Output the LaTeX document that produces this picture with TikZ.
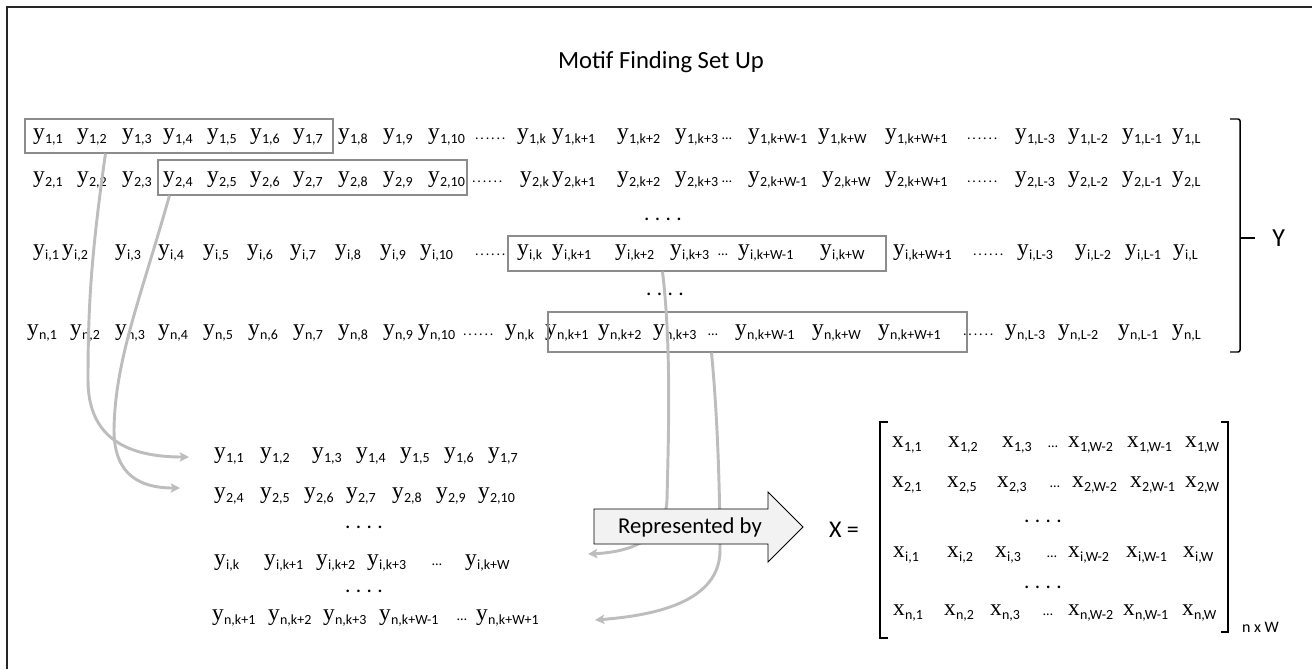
\documentclass[tikz,border=0pt]{standalone}
\usepackage{fontspec}
\setmainfont{Carlito}
\newfontfamily\serifyy{Liberation Serif}
\usetikzlibrary{arrows.meta,calc,fit}
\definecolor{boxgray}{HTML}{8C8C8C}
\definecolor{arrgray}{HTML}{BDBDBD}
\definecolor{repfill}{HTML}{F2F2F2}
\newcommand\ylet{\fontsize{17.5}{19}\serifyy}
\newcommand\sbf{\fontsize{10.5}{12}\selectfont}
\newcommand\yv[2]{{\ylet #1}\kern0.3pt\raisebox{-3pt}{\sbf #2}}
\newcommand\Ey[4]{\node[ent] (#1) at (#2,#3) {\yv{y}{#4}};}
\newcommand\Ex[4]{\node[ent] (#1) at (#2,#3) {\yv{x}{#4}};}
\newcommand\sixdots{.\kern1.4pt.\kern1.4pt.\kern1.4pt.\kern1.4pt.\kern1.4pt.}
\newcommand\Dd[3]{\node[ent] (#1) at (#2,#3) {\sbf\sixdots};}
\newcommand\Dt[3]{\node[ent] (#1) at (#2,#3) {\sbf\ldots};}
\newcommand\Dc[3]{\node[inner sep=0pt,anchor=base] (#1) at (#2,#3) {\fontsize{16}{18}\selectfont .\kern4pt.\kern4pt.\kern4pt.};}
\begin{document}
\begin{tikzpicture}[x=0.75pt,y=-0.75pt,
  ent/.style={anchor=base west,inner sep=0pt,outer sep=0pt},
  selbox/.style={draw=boxgray,line width=0.8pt,inner sep=0pt},
  garrow/.style={draw=arrgray,line width=2.2pt,-{Stealth[length=7pt,width=7pt,inset=1.5pt]}},
  brk/.style={line width=1.1pt,black}]
\useasboundingbox (0,0) rectangle (1312,669);
\draw[line width=0.9pt,black!85] (7,669) -- (7,7) -- (1312,7);
\node[font=\fontsize{18.5}{22}\selectfont] (title) at (661,62) {Motif Finding Set Up};

% row 1
\Ey{a1}{33}{139}{1,1}\Ey{a2}{77}{139}{1,2}\Ey{a3}{122}{139}{1,3}\Ey{a4}{163}{139}{1,4}
\Ey{a5}{207}{139}{1,5}\Ey{a6}{250}{139}{1,6}\Ey{a7}{293}{139}{1,7}\Ey{a8}{338}{139}{1,8}
\Ey{a9}{383}{139}{1,9}\Ey{a10}{428}{139}{1,10}\Dd{ad1}{475}{139}
\Ey{a11}{517}{139}{1,k}\Ey{a12}{552}{139}{1,k+1}\Ey{a13}{617}{139}{1,k+2}\Ey{a14}{675}{139}{1,k+3}
\Dt{ad2}{722}{139}\Ey{a15}{748}{139}{1,k+W-1}\Ey{a16}{818}{139}{1,k+W}\Ey{a17}{885}{139}{1,k+W+1}
\Dd{ad3}{967}{139}\Ey{a18}{1015}{139}{1,L-3}\Ey{a19}{1068}{139}{1,L-2}\Ey{a20}{1122}{139}{1,L-1}\Ey{a21}{1172}{139}{1,L}
% row 2
\Ey{b1}{33}{182}{2,1}\Ey{b2}{77}{182}{2,2}\Ey{b3}{122}{182}{2,3}\Ey{b4}{163}{182}{2,4}
\Ey{b5}{207}{182}{2,5}\Ey{b6}{250}{182}{2,6}\Ey{b7}{293}{182}{2,7}\Ey{b8}{338}{182}{2,8}
\Ey{b9}{383}{182}{2,9}\Ey{b10}{428}{182}{2,10}\Dd{bd1}{472}{182}
\Ey{b11}{520}{182}{2,k}\Ey{b12}{552}{182}{2,k+1}\Ey{b13}{617}{182}{2,k+2}\Ey{b14}{675}{182}{2,k+3}
\Dt{bd2}{722}{182}\Ey{b15}{748}{182}{2,k+W-1}\Ey{b16}{822}{182}{2,k+W}\Ey{b17}{885}{182}{2,k+W+1}
\Dd{bd3}{967}{182}\Ey{b18}{1015}{182}{2,L-3}\Ey{b19}{1068}{182}{2,L-2}\Ey{b20}{1122}{182}{2,L-1}\Ey{b21}{1172}{182}{2,L}
\Dc{vd1}{663}{220}
% row i
\Ey{c1}{33}{255}{i,1}\Ey{c2}{62}{255}{i,2}\Ey{c3}{115}{255}{i,3}\Ey{c4}{158}{255}{i,4}
\Ey{c5}{203}{255}{i,5}\Ey{c6}{247}{255}{i,6}\Ey{c7}{290}{255}{i,7}\Ey{c8}{335}{255}{i,8}
\Ey{c9}{380}{255}{i,9}\Ey{c10}{420}{255}{i,10}\Dd{cd1}{475}{255}
\Ey{c11}{517}{255}{i,k}\Ey{c12}{552}{255}{i,k+1}\Ey{c13}{615}{255}{i,k+2}\Ey{c14}{670}{255}{i,k+3}
\Dt{cd2}{718}{255}\Ey{c15}{738}{255}{i,k+W-1}\Ey{c16}{820}{255}{i,k+W}\Ey{c17}{893}{255}{i,k+W+1}
\Dd{cd3}{973}{255}\Ey{c18}{1017}{255}{i,L-3}\Ey{c19}{1075}{255}{i,L-2}\Ey{c20}{1125}{255}{i,L-1}\Ey{c21}{1173}{255}{i,L}
\Dc{vd2}{665}{295}
% row n
\Ey{d1}{27}{335}{n,1}\Ey{d2}{70}{335}{n,2}\Ey{d3}{115}{335}{n,3}\Ey{d4}{158}{335}{n,4}
\Ey{d5}{203}{335}{n,5}\Ey{d6}{248}{335}{n,6}\Ey{d7}{293}{335}{n,7}\Ey{d8}{338}{335}{n,8}
\Ey{d9}{383}{335}{n,9}\Ey{d10}{418}{335}{n,10}\Dd{dd1}{463}{335}
\Ey{d11}{505}{335}{n,k}\Ey{d12}{545}{335}{n,k+1}\Ey{d13}{598}{335}{n,k+2}\Ey{d14}{653}{335}{n,k+3}
\Dt{dd2}{708}{335}\Ey{d15}{735}{335}{n,k+W-1}\Ey{d16}{812}{335}{n,k+W}\Ey{d17}{878}{335}{n,k+W+1}
\Dd{dd3}{963}{335}\Ey{d18}{1005}{335}{n,L-3}\Ey{d19}{1058}{335}{n,L-2}\Ey{d20}{1118}{335}{n,L-1}\Ey{d21}{1172}{335}{n,L}

% selection boxes
\coordinate (p1) at (25,119);\coordinate (q1) at (333,153);
\coordinate (p2) at (158,160);\coordinate (q2) at (467,195);
\coordinate (p3) at (508,236);\coordinate (q3) at (886,271);
\coordinate (p4) at (548,312);\coordinate (q4) at (967,352);
\node[selbox,fit=(p1)(q1)] (box1) {};
\node[selbox,fit=(p2)(q2)] (box2) {};
\node[selbox,fit=(p3)(q3)] (box3) {};
\node[selbox,fit=(p4)(q4)] (box4) {};

% Y brace
\coordinate (yt) at (1240,119);\coordinate (yb) at (1240,352);\coordinate (ym) at (1240,238);
\draw[brk,rounded corners=1.5pt] ($(yt)+(-10,0)$) -- (yt) -- (yb) -- ($(yb)+(-10,0)$);
\draw[brk] (ym) -- ($(ym)+(15,0)$) coordinate (ymr);
\node[anchor=west,inner sep=0pt,font=\fontsize{19.5}{22}\selectfont] (Ylab) at ($(ymr)+(17,0)$) {Y};

% lower left block
\Ey{l11}{214}{458}{1,1}\Ey{l12}{260}{458}{1,2}\Ey{l13}{312}{458}{1,3}\Ey{l14}{356}{458}{1,4}
\Ey{l15}{400}{458}{1,5}\Ey{l16}{444}{458}{1,6}\Ey{l17}{488}{458}{1,7}
\Ey{l21}{214}{498}{2,4}\Ey{l22}{260}{498}{2,5}\Ey{l23}{304}{498}{2,6}\Ey{l24}{346}{498}{2,7}
\Ey{l25}{392}{498}{2,8}\Ey{l26}{436}{498}{2,9}\Ey{l27}{478}{498}{2,10}
\Dc{lvd1}{364}{528}
\Ey{l31}{214}{565}{i,k}\Ey{l32}{264}{565}{i,k+1}\Ey{l33}{316}{565}{i,k+2}\Ey{l34}{367}{565}{i,k+3}
\Dt{l35}{432}{565}\Ey{l36}{465}{565}{i,k+W}
\Dc{lvd2}{364}{592}
\Ey{l41}{212}{620}{n,k+1}\Ey{l42}{268}{620}{n,k+2}\Ey{l43}{323}{620}{n,k+3}\Ey{l44}{379}{620}{n,k+W-1}
\Dt{l45}{457}{620}\Ey{l46}{476}{620}{n,k+W+1}

% curved arrows
\coordinate (sA) at ($(box1.south west)+(81,0)$);
\coordinate (sB) at ($(box2.south west)+(12,0)$);
\coordinate (sC) at ($(box3.south west)+(155,0)$);
\coordinate (sD) at ($(box4.south west)+(164,0)$);
\coordinate (tA) at ($(l11.base west)+(-25,-1)$);
\coordinate (tB) at ($(l21.base west)+(-34,-10)$);
\coordinate (tC) at ($(l36.base west)+(123,-11)$);
\coordinate (tD) at ($(l46.base west)+(119,0)$);
\draw[garrow] (sA) .. controls (92,250) and (88,300) .. (88,380) .. controls (88,440) and (130,457) .. (tA);
\draw[garrow] (sB) .. controls (140,300) and (115,360) .. (114,430) .. controls (114,475) and (140,488) .. (tB);
\draw[garrow] (sC) .. controls (672,350) and (668,450) .. (667,500) .. controls (665,540) and (630,552) .. (tC);
\draw[garrow] (sD) .. controls (718,420) and (720,500) .. (720,550) .. controls (720,600) and (660,615) .. (tD);

% represented by arrow
\draw[fill=repfill,draw=black,line width=0.7pt] (594,509) -- (768,509) -- (768,492) -- (803,527) -- (768,562) -- (768,544) -- (594,544) -- cycle;
\node[font=\fontsize{17}{20}\selectfont,inner sep=0pt] (rep) at (690,527) {Represented by};

% matrix
\node[font=\fontsize{18}{20}\selectfont,inner sep=0pt] (Xeq) at (844,530) {X =};
\draw[brk] (888,422) -- (880,422) -- (880,638) -- (888,638);
\draw[brk] (1221,422) -- (1228,422) -- (1228,632) -- (1221,632);
\node[ent,font=\fontsize{12}{14}\selectfont] (nxw) at (1242,632) {n x W};
\Ex{m11}{892}{447}{1,1}\Ex{m12}{948}{447}{1,2}\Ex{m13}{1002}{447}{1,3}\Dt{m1d}{1048}{447}
\Ex{m14}{1068}{447}{1,W-2}\Ex{m15}{1127}{447}{1,W-1}\Ex{m16}{1185}{447}{1,W}
\Ex{m21}{892}{487}{2,1}\Ex{m22}{947}{487}{2,5}\Ex{m23}{997}{487}{2,3}\Dt{m2d}{1050}{487}
\Ex{m24}{1072}{487}{2,W-2}\Ex{m25}{1130}{487}{2,W-1}\Ex{m26}{1185}{487}{2,W}
\Dc{mvd1}{1043}{522}
\Ex{m31}{893}{557}{i,1}\Ex{m32}{947}{557}{i,2}\Ex{m33}{995}{557}{i,3}\Dt{m3d}{1047}{557}
\Ex{m34}{1068}{557}{i,W-2}\Ex{m35}{1126}{557}{i,W-1}\Ex{m36}{1183}{557}{i,W}
\Dc{mvd2}{1043}{588}
\Ex{m41}{893}{615}{n,1}\Ex{m42}{944}{615}{n,2}\Ex{m43}{990}{615}{n,3}\Dt{m4d}{1043}{615}
\Ex{m44}{1068}{615}{n,W-2}\Ex{m45}{1123}{615}{n,W-1}\Ex{m46}{1182}{615}{n,W}
\end{tikzpicture}
\end{document}
